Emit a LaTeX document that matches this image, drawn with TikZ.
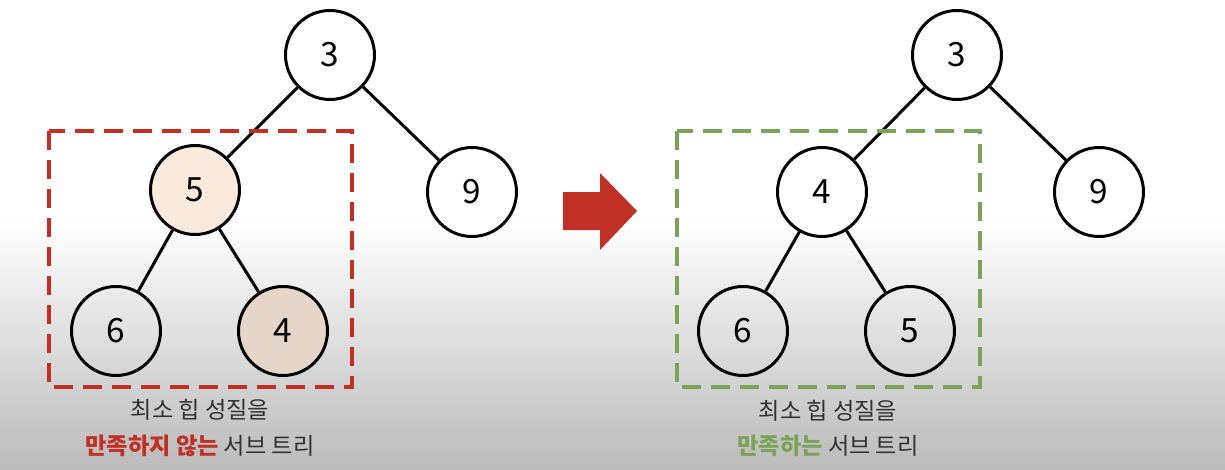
\documentclass[tikz,border=0pt]{standalone}
\usepackage{fontspec}
\setmainfont{Noto Sans CJK KR}
\usetikzlibrary{positioning}
\definecolor{badred}{RGB}{192,48,36}
\definecolor{goodgreen}{RGB}{122,162,88}
\definecolor{peach}{RGB}{251,233,220}
\definecolor{tan}{RGB}{230,213,201}
\definecolor{textgray}{RGB}{50,50,50}
\tikzset{
    heapnode/.style={draw, circle, line width=1.7pt, minimum size=1.78cm, fill=white, inner sep=0pt, font=\fontsize{19}{19}\selectfont},
    edge/.style={line width=1.7pt},
    subbox/.style={line width=2.8pt, dash pattern=on 11pt off 5.5pt},
    caption/.style={align=center, text=textgray, font=\fontsize{13.2}{20}\selectfont}
}

\begin{document}
\begin{tikzpicture}[x=0.02cm, y=-0.02cm]
            % background
            \fill[white] (0,0) rectangle (1225,470);
            \shade[top color=white, bottom color=black!27] (0,220) rectangle (1225,470);
            \useasboundingbox (0,0) rectangle (1225,470);

            % before
            \node [heapnode] (L3) at (330,55) {3};
            \node [heapnode, fill=peach] (L5) at (195,190) {5};
            \node [heapnode] (L9) at (472,192) {9};
            \node [heapnode, fill=none] (L6) at (116,331) {6};
            \node [heapnode, fill=tan] (L4) at (283,331) {4};
            \draw[edge] (L3) -- (L5);
            \draw[edge] (L3) -- (L9);
            \draw[edge] (L5) -- (L6);
            \draw[edge] (L5) -- (L4);
            \draw[subbox, badred] (49,131) rectangle (352,387);
            \node [caption] (Lcap) at (200,428) {최소 힙 성질을\\{\color{badred}\bfseries 만족하지 않는} 서브 트리};

            % arrow
            \fill[badred] (563,192) -- (600,192) -- (600,173) -- (637,211)
                -- (600,250) -- (600,230) -- (563,230) -- cycle;

            % after
            \node [heapnode] (R3) at (957,55) {3};
            \node [heapnode] (R4) at (822,192) {4};
            \node [heapnode] (R9) at (1099,192) {9};
            \node [heapnode, fill=none] (R6) at (743,331) {6};
            \node [heapnode, fill=none] (R5) at (910,331) {5};
            \draw[edge] (R3) -- (R4);
            \draw[edge] (R3) -- (R9);
            \draw[edge] (R4) -- (R6);
            \draw[edge] (R4) -- (R5);
            \draw[subbox, goodgreen] (677,131) rectangle (980,387);
            \node [caption] (Rcap) at (828,428) {최소 힙 성질을\\{\color{goodgreen}\bfseries 만족하는} 서브 트리};
        \end{tikzpicture}
\end{document}
